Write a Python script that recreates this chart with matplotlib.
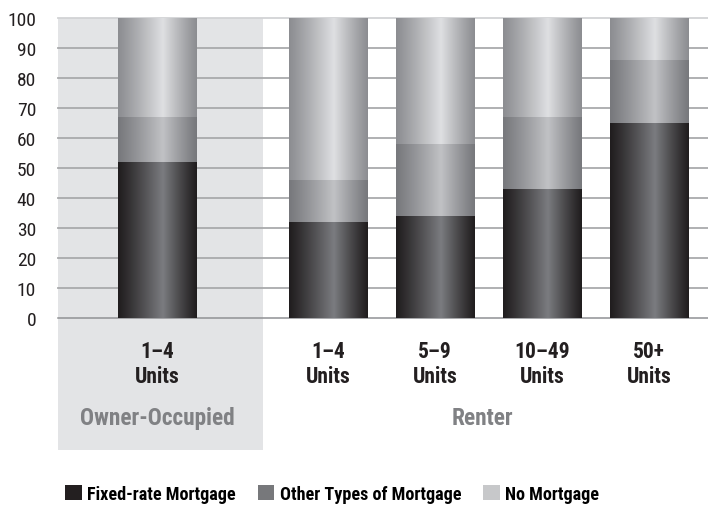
import matplotlib
matplotlib.use("Agg")
import matplotlib.pyplot as plt
import numpy as np
from matplotlib.colors import to_rgb
from matplotlib.patches import Rectangle

# data (percent of units)
categories = ["1\u20134\nUnits", "1\u20134\nUnits", "5\u20139\nUnits", "10\u201349\nUnits", "50+\nUnits"]
groups = ["Owner-Occupied", "Renter"]
fixed_rate = [52, 32, 34, 43, 65]
other_types = [15, 14, 24, 24, 21]
no_mortgage = [33, 54, 42, 33, 14]
series_names = ["Fixed-rate Mortgage", "Other Types of Mortgage", "No Mortgage"]
yticks = [0, 10, 20, 30, 40, 50, 60, 70, 80, 90, 100]

plt.rcParams['font.family'] = ['Roboto Condensed', 'DejaVu Sans']

# bar positions: one owner bar, gap, four renter bars
xpos = np.array([0, 1.6, 2.6, 3.6, 4.6])
width = 0.73
x_left, x_right = -0.925, 5.15
owner_edge = 0.99

# (edge colour, centre colour) for the cylinder shading
shades = [("#201d1e", "#7b7c80"),
          ("#77787c", "#c1c2c5"),
          ("#8c8d91", "#dfe0e2")]
legend_cols = ["#231f20", "#77787b", "#c7c8ca"]


def cylinder(edge, centre, n=200, peak=0.57):
    t = np.linspace(0, 1, n)
    f = np.where(t < peak, t / peak, (1 - t) / (1 - peak))
    f = f ** 1.1
    e = np.array(to_rgb(edge))
    c = np.array(to_rgb(centre))
    rgb = e[None, :] + (c - e)[None, :] * f[:, None]
    return rgb[None, :, :]


fig = plt.figure(figsize=(7.08, 5.06), dpi=100)
ax = fig.add_axes([58 / 708, 1 - 451 / 506, 650 / 708, 432 / 506])

# owner-occupied shaded panel
ax.add_patch(Rectangle((x_left, -44), owner_edge - x_left, 144,
                       facecolor="#e3e4e6", edgecolor="none", zorder=0))

for v in yticks:
    if v == 100:
        col, lw = "#d2d3d5", 1.3
    elif v == 0:
        col, lw = "#909194", 1.1
    else:
        col, lw = "#a9aaac", 1.3
    ax.axhline(v, color=col, lw=lw, zorder=1, clip_on=False)

stack = np.array([fixed_rate, other_types, no_mortgage], dtype=float)
bottoms = np.vstack([np.zeros(len(xpos)), np.cumsum(stack, axis=0)[:-1]])
for s in range(3):
    img = cylinder(*shades[s])
    for i, x in enumerate(xpos):
        b = bottoms[s, i]
        ax.imshow(img, extent=[x - width / 2, x + width / 2, b, b + stack[s, i]],
                  aspect="auto", interpolation="bilinear", zorder=3)

ax.set_xlim(x_left, x_right)
ax.set_ylim(-44, 100)
ax.set_xticks([])
ax.set_yticks(yticks)
ax.set_yticklabels([str(v) for v in yticks], fontsize=14, color="#231f20")
ax.tick_params(axis="y", length=0, pad=15.8)
for sp in ax.spines.values():
    sp.set_visible(False)
ax.patch.set_alpha(0)

# category labels
for x, lab in zip(xpos, categories):
    top, bot = lab.split("\n")
    ax.text(x, -11, top, ha="center", va="center", fontsize=15.5,
            fontweight="bold", color="#231f20")
    ax.text(x, -19.5, bot, ha="center", va="center", fontsize=15.5,
            fontweight="bold", color="#231f20")

ax.text(xpos[0], -33.3, groups[0], ha="center", va="center", fontsize=16.8,
        fontweight="bold", color="#808184")
ax.text((owner_edge + x_right) / 2 - 0.03, -33.3, groups[1], ha="center", va="center",
        fontsize=16.8, fontweight="bold", color="#808184")

# legend along the bottom
handles = [Rectangle((0, 0), 1, 1, facecolor=c, edgecolor="none") for c in legend_cols]
fig.legend(handles, series_names, loc="center left", bbox_to_anchor=(65 / 708, 1 - 495 / 506),
           ncol=3, frameon=False, handlelength=0.92, handleheight=0.92, handletextpad=0.3,
           columnspacing=1.2, borderaxespad=0, borderpad=0,
           prop={"size": 13.1, "weight": "bold"})

fig.savefig("out.png", dpi=100)
